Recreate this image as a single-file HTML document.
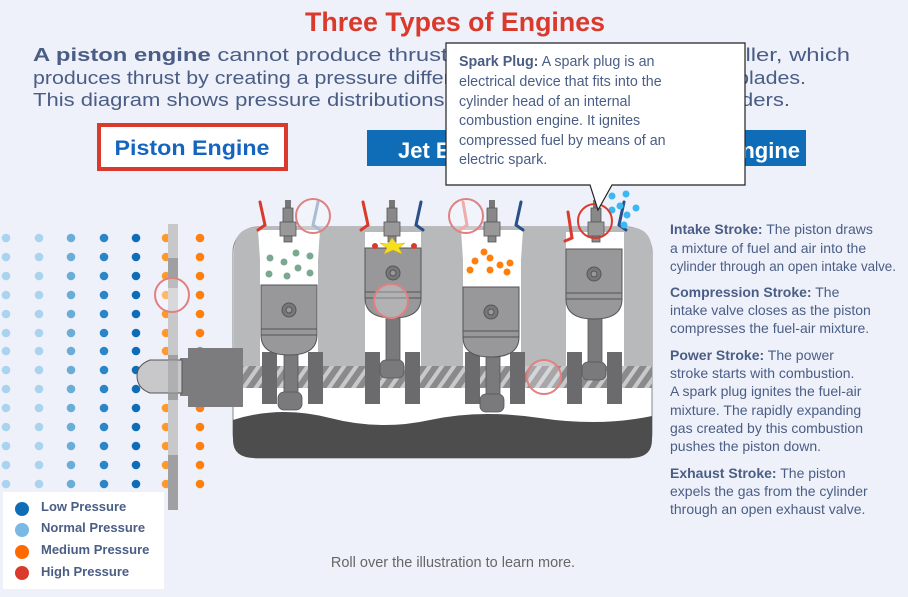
<!DOCTYPE html>
<html><head><meta charset="utf-8"><style>
html,body{margin:0;padding:0;background:#eef0fa;}
svg{display:block;font-family:"Liberation Sans",sans-serif;}
</style></head><body>
<svg width="908" height="597" viewBox="0 0 908 597" xmlns="http://www.w3.org/2000/svg">
<defs>
<pattern id="hatch" width="10" height="10" patternUnits="userSpaceOnUse" patternTransform="rotate(35)">
<rect width="10" height="10" fill="#8a8a8c"/><rect width="4" height="10" fill="#c9c9cb"/>
</pattern>
<g id="piston">
<path d="M0 0 H56 V50 Q56 70 28 70 Q0 70 0 50 Z" fill="#98989b" stroke="#555" stroke-width="1"/>
<line x1="0" y1="44" x2="56" y2="44" stroke="#555"/><line x1="0" y1="50" x2="56" y2="50" stroke="#555"/>
<circle cx="28" cy="25" r="7" fill="#777" stroke="#555"/><circle cx="28" cy="25" r="3" fill="#999" stroke="#555"/>
</g>
<g id="plug">
<rect x="-3" y="-30" width="6" height="8" fill="#777"/>
<path d="M-5 -22 H5 V-8 H-5Z" fill="#888" stroke="#555" stroke-width=".8"/>
<rect x="-8" y="-8" width="16" height="14" fill="#999" stroke="#555" stroke-width=".8"/>
<rect x="-4" y="6" width="8" height="6" fill="#888" stroke="#555" stroke-width=".8"/>
</g>
</defs>
<rect width="908" height="597" fill="#eef0fa"/>
<text x="455" y="31" text-anchor="middle" font-size="27" fill="#d93a2b" font-weight="bold" textLength="300" lengthAdjust="spacingAndGlyphs">Three Types of Engines</text>
<g font-size="18.5" fill="#4a5e85">
<text x="33" y="61" textLength="817" lengthAdjust="spacingAndGlyphs"><tspan font-weight="bold">A piston engine</tspan> cannot produce thrust on its own. It drives a propeller, which</text>
<text x="33" y="84" textLength="773" lengthAdjust="spacingAndGlyphs">produces thrust by creating a pressure difference in front of and behind its blades.</text>
<text x="33" y="106" textLength="757" lengthAdjust="spacingAndGlyphs">This diagram shows pressure distributions around the propeller and cylinders.</text>
</g>
<rect x="99" y="125" width="187" height="44" fill="#fff" stroke="#d93a2b" stroke-width="4"/>
<text x="192" y="155" text-anchor="middle" font-size="21" font-weight="bold" fill="#1565c0" textLength="155" lengthAdjust="spacingAndGlyphs">Piston Engine</text>
<rect x="367" y="130" width="439" height="36" fill="#0f6db8"/>
<text x="398" y="158" font-size="22" font-weight="bold" fill="#fff">Jet Engine</text>
<text x="800" y="158" text-anchor="end" font-size="22" font-weight="bold" fill="#fff">Rocket Engine</text>
<g fill="#a9d3ee">
<g id="c1"><circle cx="6" cy="238" r="4.3"/><circle cx="6" cy="257" r="4.3"/><circle cx="6" cy="276" r="4.3"/><circle cx="6" cy="295" r="4.3"/><circle cx="6" cy="314" r="4.3"/><circle cx="6" cy="333" r="4.3"/><circle cx="6" cy="351" r="4.3"/><circle cx="6" cy="370" r="4.3"/><circle cx="6" cy="389" r="4.3"/><circle cx="6" cy="408" r="4.3"/><circle cx="6" cy="427" r="4.3"/><circle cx="6" cy="446" r="4.3"/><circle cx="6" cy="465" r="4.3"/><circle cx="6" cy="484" r="4.3"/></g>
<use href="#c1" x="33"/>
</g>
<use href="#c1" x="65" fill="#6aaed8"/>
<use href="#c1" x="98" fill="#2a86c8"/>
<use href="#c1" x="130" fill="#0f6db8"/>
<use href="#c1" x="160" fill="#ff9a2a"/>
<use href="#c1" x="194" fill="#ff7f0e"/>
<rect x="168" y="224" width="10" height="286" fill="#c8c8ca"/>
<rect x="168" y="258" width="10" height="30" fill="#a0a0a2"/>
<rect x="168" y="355" width="10" height="45" fill="#a0a0a2"/>
<rect x="168" y="455" width="10" height="55" fill="#a0a0a2"/>
<circle cx="172" cy="295" r="17" fill="#fff" fill-opacity=".3" stroke="#e08080" stroke-width="2"/>
<rect x="233" y="227" width="419" height="231" rx="25" fill="#fff" stroke="#888" stroke-width="1"/>
<path d="M234 252 Q234 227 258 227 H628 Q652 227 652 252 V366 H234Z" fill="#b8b9bb"/>
<path d="M233 420 Q280 405 330 418 T430 420 T540 418 T652 416 V440 Q652 458 630 458 H255 Q233 458 233 440Z" fill="#4d4d4d"/>
<g fill="#fff">
<path d="M258 230 H320 L318 260 V366 H260 V260Z"/>
<rect x="365" y="232" width="56" height="134"/>
<path d="M461 230 H523 L521 260 V366 H463 V260Z"/>
<rect x="566" y="232" width="58" height="134"/>
</g>
<rect x="234" y="366" width="418" height="22" fill="url(#hatch)"/>
<g fill="#6b6b6d">
<rect x="262" y="352" width="15" height="52"/><rect x="308" y="352" width="15" height="52"/>
<rect x="365" y="352" width="15" height="52"/><rect x="405" y="352" width="15" height="52"/>
<rect x="465" y="352" width="15" height="52"/><rect x="510" y="352" width="15" height="52"/>
<rect x="567" y="352" width="15" height="52"/><rect x="607" y="352" width="15" height="52"/>
</g>
<g fill="#7a7a7c" stroke="#555" stroke-width=".8">
<rect x="284" y="350" width="14" height="50"/><rect x="278" y="392" width="24" height="18" rx="6"/>
<rect x="386" y="315" width="14" height="55"/><rect x="380" y="360" width="24" height="18" rx="6"/>
<rect x="486" y="352" width="14" height="50"/><rect x="480" y="394" width="24" height="18" rx="6"/>
<rect x="588" y="316" width="14" height="55"/><rect x="582" y="362" width="24" height="18" rx="6"/>
</g>
<use href="#piston" x="261" y="285"/>
<use href="#piston" x="365" y="248"/>
<use href="#piston" x="463" y="287"/>
<use href="#piston" x="566" y="249"/>
<use href="#plug" x="288" y="230"/>
<use href="#plug" x="392" y="230"/>
<use href="#plug" x="492" y="230"/>
<use href="#plug" x="596" y="230"/>
<g stroke-width="3" fill="none" stroke-linecap="round">
<path d="M260 202 L265 225 L258 230" stroke="#d93a2b"/>
<path d="M318 202 L313 225 L320 230" stroke="#8ea5c4"/>
<path d="M363 202 L368 225 L361 230" stroke="#d93a2b"/>
<path d="M421 202 L416 225 L423 230" stroke="#2a4f88"/>
<path d="M463 202 L467 225 L460 230" stroke="#e89090"/>
<path d="M521 202 L516 225 L523 230" stroke="#2a4f88"/>
<path d="M568 212 L572 238 L565 241" stroke="#d93a2b"/>
<path d="M624 202 L619 225 L626 230" stroke="#2a4f88"/>
</g>
<g fill="#7aa890"><circle cx="270" cy="258" r="3.5"/><circle cx="284" cy="262" r="3.5"/><circle cx="296" cy="253" r="3.5"/><circle cx="310" cy="256" r="3.5"/><circle cx="269" cy="274" r="3.5"/><circle cx="287" cy="276" r="3.5"/><circle cx="298" cy="268" r="3.5"/><circle cx="310" cy="273" r="3.5"/></g>
<g fill="#ff7f0e"><circle cx="475" cy="261" r="3.5"/><circle cx="484" cy="252" r="3.5"/><circle cx="490" cy="258" r="3.5"/><circle cx="470" cy="270" r="3.5"/><circle cx="490" cy="270" r="3.5"/><circle cx="500" cy="265" r="3.5"/><circle cx="510" cy="263" r="3.5"/><circle cx="507" cy="272" r="3.5"/></g>
<g fill="#3bb8f0"><circle cx="612" cy="196" r="3.5"/><circle cx="626" cy="194" r="3.5"/><circle cx="636" cy="208" r="3.5"/><circle cx="620" cy="206" r="3.5"/><circle cx="627" cy="215" r="3.5"/><circle cx="624" cy="225" r="3.5"/><circle cx="612" cy="210" r="3.5"/></g>
<polygon points="392,238 397,244 405,243 399,248 402,254 393,250 384,254 387,248 380,243 388,244" fill="#f5e020" stroke="#e0b000" stroke-width=".5"/>
<g fill="#d93a2b"><circle cx="375" cy="246" r="3"/><circle cx="414" cy="246" r="3"/></g>
<g fill="#fff" fill-opacity=".25" stroke="#e08080" stroke-width="2">
<circle cx="313" cy="216" r="17"/><circle cx="391" cy="301" r="17"/><circle cx="466" cy="216" r="17"/><circle cx="544" cy="377" r="17"/>
</g>
<circle cx="595" cy="221" r="17" fill="none" stroke="#d93a2b" stroke-width="2"/>
<rect x="180" y="358" width="10" height="38" fill="#7c7c7e"/>
<rect x="188" y="348" width="55" height="59" fill="#7c7c7e"/>
<path d="M182 360 H150 Q137 365 137 376 Q137 388 150 393 H182Z" fill="#c8c8ca" stroke="#555"/>
<rect x="168" y="355" width="10" height="45" fill="#a0a0a2" fill-opacity=".6"/>
<path d="M446 43 H745 V185 H612 L598 210 L590 185 H446Z" fill="#fff" stroke="#222" stroke-width="1.2"/>
<g font-size="14.3" fill="#4a5e85">
<text x="459" y="66"><tspan font-weight="bold">Spark Plug:</tspan> A spark plug is an</text>
<text x="459" y="86">electrical device that fits into the</text>
<text x="459" y="106">cylinder head of an internal</text>
<text x="459" y="125">combustion engine. It ignites</text>
<text x="459" y="145">compressed fuel by means of an</text>
<text x="459" y="164">electric spark.</text>
</g>
<g font-size="14" fill="#4a5e85">
<text x="670" y="234"><tspan font-weight="bold">Intake Stroke:</tspan> The piston draws</text>
<text x="670" y="253">a mixture of fuel and air into the</text>
<text x="670" y="271" textLength="226" lengthAdjust="spacingAndGlyphs">cylinder through an open intake valve.</text>
<text x="670" y="297"><tspan font-weight="bold">Compression Stroke:</tspan> The</text>
<text x="670" y="315">intake valve closes as the piston</text>
<text x="670" y="333">compresses the fuel-air mixture.</text>
<text x="670" y="360"><tspan font-weight="bold">Power Stroke:</tspan> The power</text>
<text x="670" y="378">stroke starts with combustion.</text>
<text x="670" y="396">A spark plug ignites the fuel-air</text>
<text x="670" y="415">mixture. The rapidly expanding</text>
<text x="670" y="433">gas created by this combustion</text>
<text x="670" y="451">pushes the piston down.</text>
<text x="670" y="478"><tspan font-weight="bold">Exhaust Stroke:</tspan> The piston</text>
<text x="670" y="496">expels the gas from the cylinder</text>
<text x="670" y="514">through an open exhaust valve.</text>
</g>
<rect x="3" y="492" width="161" height="97" fill="#fff"/>
<g font-size="13" font-weight="bold" fill="#4a5e85">
<circle cx="22" cy="509" r="7" fill="#0f6db8"/><text x="41" y="511">Low Pressure</text>
<circle cx="22" cy="530" r="7" fill="#7ab8e6"/><text x="41" y="532">Normal Pressure</text>
<circle cx="22" cy="552" r="7" fill="#ff6a00"/><text x="41" y="554">Medium Pressure</text>
<circle cx="22" cy="573" r="7" fill="#d93a2b"/><text x="41" y="576">High Pressure</text>
</g>
<text x="453" y="567" text-anchor="middle" font-size="14.5" fill="#666">Roll over the illustration to learn more.</text>
</svg>
</body></html>
